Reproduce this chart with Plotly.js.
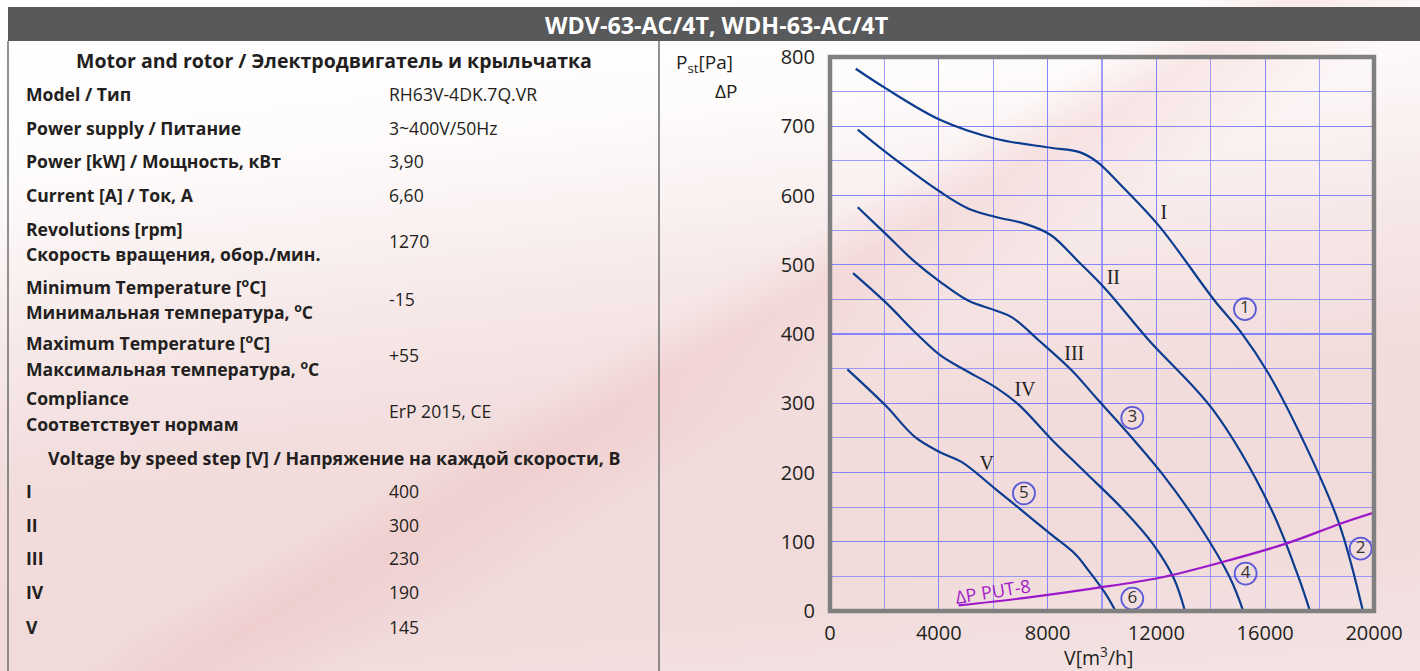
<!DOCTYPE html>
<html><head><meta charset="utf-8">
<script src="https://cdn.plot.ly/plotly-3.0.1.min.js"></script>
<style>
html,body{margin:0;padding:0;width:1420px;height:671px;overflow:hidden;}
body{
 background:
  linear-gradient(149deg, rgba(255,255,255,0) 47%, rgba(232,165,165,0.22) 51%, rgba(232,165,165,0.10) 55%, rgba(255,255,255,0) 58%),
  linear-gradient(174deg, #ffffff 0%, #fefbfb 22%, #f7e9e9 42%, #f2dcdc 60%, #f1dada 80%, #f4e4e4 100%);
}
#chart{width:1420px;height:671px;}
</style></head><body><div id="chart"></div><script>
// ---------- DATA ----------
const chartTitle = 'WDV-63-AC/4T, WDH-63-AC/4T';
const specHeader = 'Motor and rotor / Электродвигатель и крыльчатка';
const specLabels = [
 ['Model / Тип'],
 ['Power supply / Питание'],
 ['Power [kW] / Мощность, кВт'],
 ['Current [A] / Ток, A'],
 ['Revolutions [rpm]', 'Скорость вращения, обор./мин.'],
 ['Minimum Temperature [<sup>o</sup>C]', 'Минимальная температура, <sup>o</sup>C'],
 ['Maximum Temperature [<sup>o</sup>C]', 'Максимальная температура, <sup>o</sup>C'],
 ['Compliance', 'Соответствует нормам']
];
const specValues = ['RH63V-4DK.7Q.VR', '3~400V/50Hz', '3,90', '6,60', '1270', '-15', '+55', 'ErP 2015, CE'];
const voltHeader = 'Voltage by speed step [V] / Напряжение на каждой скорости, В';
const speedSteps = ['I', 'II', 'III', 'IV', 'V'];
const speedVoltages = ['400', '300', '230', '190', '145'];

const xTickVals = [0,4000,8000,12000,16000,20000];
const xTickText = ['0','4000','8000','12000','16000','20000'];
const yTickVals = [0,100,200,300,400,500,600,700,800];
const yTickText = ['0','100','200','300','400','500','600','700','800'];

const curveI_x   = [946,2037,4063,6088,8114,9146,9843,10618,12117,14143,15100,16120,17387,18711,19593];
const curveI_y   = [783,755,709,682,669,663,648,618,555,448,403,343,247,127,0];
const curveII_x  = [1020,2037,4063,5094,6088,7182,8114,9146,10128,11723,14091,16174,17215,17645];
const curveII_y  = [695,663,605,581,569,559,543,504,465,391,290,151,50,0];
const curveIII_x = [1020,2037,3068,4063,5094,6088,6692,7672,8901,9760,11170,12216,13601,14704,15193];
const curveIII_y = [583,545,506,475,448,434,424,391,347,309,247,198,122,48,0];
const curveIV_x  = [847,2037,3193,4063,4909,6088,6935,8165,9392,10743,11848,12643,13049];
const curveIV_y  = [488,446,400,369,349,323,298,247,200,148,98,47,0];
const curveV_x   = [638,2037,3131,4063,4849,6088,7060,8114,9023,9514,10128,10497];
const curveV_y   = [349,297,251,229,215,176,145,111,82,58,25,0];
const put8_x     = [4726,7182,9760,12117,14364,16820,18758,20000];
const put8_y     = [8,19,33,48,70,98,126,142];

const curveNames = ['I','II','III','IV','V'];
const circleNums = ['1','2','3','4','5','6'];
const put8Label = 'ΔP PUT-8';

// ---------- LAYOUT HELPERS ----------
const L=830, R=1374, T=57, B=611, W=R-L, H=B-T;
const px = v => (v-L)/W, py = v => (B-v)/H;
const FONT = 'Open Sans, Liberation Sans, sans-serif';
const TXT = '#231f20';
const anns = [], shapes = [];
function note(text, x, y, o){
  o = o||{};
  anns.push({xref:'paper', yref:'paper', x:px(x), y:py(y), text:text, showarrow:false,
    xanchor:o.xa||'left', yanchor:'middle',
    font:{family:FONT, size:o.size||16, color:o.color||TXT, weight:o.bold?700:400}});
}
// header bar
shapes.push({type:'rect', xref:'paper', yref:'paper', x0:px(8), x1:px(1420), y0:py(41), y1:py(7), fillcolor:'#58595b', line:{width:0}, layer:'below'});
note(chartTitle, 717, 25, {xa:'center', size:23.3, bold:true, color:'#ffffff'});
// panel lines
[8, 659].forEach(x => shapes.push({type:'line', xref:'paper', yref:'paper', x0:px(x), x1:px(x), y0:py(41), y1:py(671), line:{color:'#6d6e70', width:1.5}, layer:'below'}));
// spec table
note(specHeader, 334, 61, {xa:'center', size:19.5, bold:true});
const rowY = [[94],[128],[161],[195],[229,254],[286,311],[342,368],[398,424]];
specLabels.forEach((lines,i) => {
  lines.forEach((t,j) => note(t, 24, rowY[i][j], {bold:true, size:17.6}));
  const ys = rowY[i];
  note(specValues[i], 387, (ys[0]+ys[ys.length-1])/2, {size:17.6});
});
note(voltHeader, 334, 458, {xa:'center', size:17.8, bold:true});
const voltY = [491,525,558,592,627];
speedSteps.forEach((s,i) => { note(s, 24, voltY[i], {bold:true, size:17.6}); note(speedVoltages[i], 387, voltY[i], {size:17.6}); });
// axis titles
note('P<sub>st</sub>[Pa]', 674, 63, {size:19});
note('ΔP', 713, 91, {size:19});
note('V[m<sup>3</sup>/h]', 1098, 656, {xa:'center', size:19.5});
// plot border
shapes.push({type:'rect', xref:'paper', yref:'paper', x0:0, x1:1, y0:0, y1:1, line:{color:'#808080', width:4.5}, layer:'above'});
// put-8 label
anns.push({xref:'x', yref:'y', x:6003, y:29, text:put8Label, showarrow:false, textangle:-9,
  font:{family:FONT, size:18, color:'#a31bc9'}});

// ---------- TRACES ----------
const blue = '#0b3c8f';
const curves = [[curveI_x,curveI_y],[curveII_x,curveII_y],[curveIII_x,curveIII_y],[curveIV_x,curveIV_y],[curveV_x,curveV_y]];
const traces = curves.map((c,i) => ({x:c[0], y:c[1], type:'scatter', mode:'lines', name:curveNames[i],
  line:{color:blue, width:2.2, shape:'spline', smoothing:1.0}, hoverinfo:'skip'}));
traces.push({x:put8_x, y:put8_y, type:'scatter', mode:'lines', name:put8Label,
  line:{color:'#9b17c9', width:2.2, shape:'spline', smoothing:1.0}, hoverinfo:'skip'});
// roman labels
const romanPos = {x:[12278,10415,8981,7168,5760], y:[574,480,370,317,211]};
traces.push({x:romanPos.x, y:romanPos.y, type:'scatter', mode:'text', text:curveNames, textposition:'middle center',
  textfont:{family:'Liberation Serif, DejaVu Serif, serif', size:20, color:'#222'}, hoverinfo:'skip'});
// circled numbers
const circPos = {x:[15255,19508,11113,15281,7131,11113], y:[436,90,279,54,170,18]};
traces.push({x:circPos.x, y:circPos.y, type:'scatter', mode:'markers+text', text:circleNums, textposition:'middle center',
  marker:{symbol:'circle-open', size:22, color:'#5b5bd8', line:{width:1.8, color:'#5b5bd8'}},
  textfont:{family:FONT, size:17, color:'#333'}, hoverinfo:'skip'});

const gridc = 'rgba(125,125,255,0.75)';
const layout = {
  width:1420, height:671, margin:{l:L, r:1420-R, t:T, b:671-B},
  paper_bgcolor:'rgba(0,0,0,0)', plot_bgcolor:'rgba(0,0,0,0)', showlegend:false,
  xaxis:{range:[0,20000], tickmode:'array', tickvals:xTickVals, ticktext:xTickText, showgrid:true, gridcolor:gridc, gridwidth:1.2,
    minor:{tickmode:'linear', tick0:0, dtick:2000, showgrid:true, gridcolor:gridc, gridwidth:1.2, ticks:''},
    zeroline:false, showline:false, ticks:'', ticklabelstandoff:8, tickfont:{family:FONT, size:20, color:TXT}, fixedrange:true},
  yaxis:{range:[0,800], tickmode:'array', tickvals:yTickVals, ticktext:yTickText, showgrid:true, gridcolor:gridc, gridwidth:1.2,
    minor:{tickmode:'linear', tick0:0, dtick:50, showgrid:true, gridcolor:gridc, gridwidth:1.2, ticks:''},
    zeroline:false, showline:false, ticks:'', ticklabelstandoff:14, tickfont:{family:FONT, size:20, color:TXT}, fixedrange:true},
  annotations:anns, shapes:shapes
};
Plotly.newPlot('chart', traces, layout, {displayModeBar:false, staticPlot:true});
</script></body></html>
